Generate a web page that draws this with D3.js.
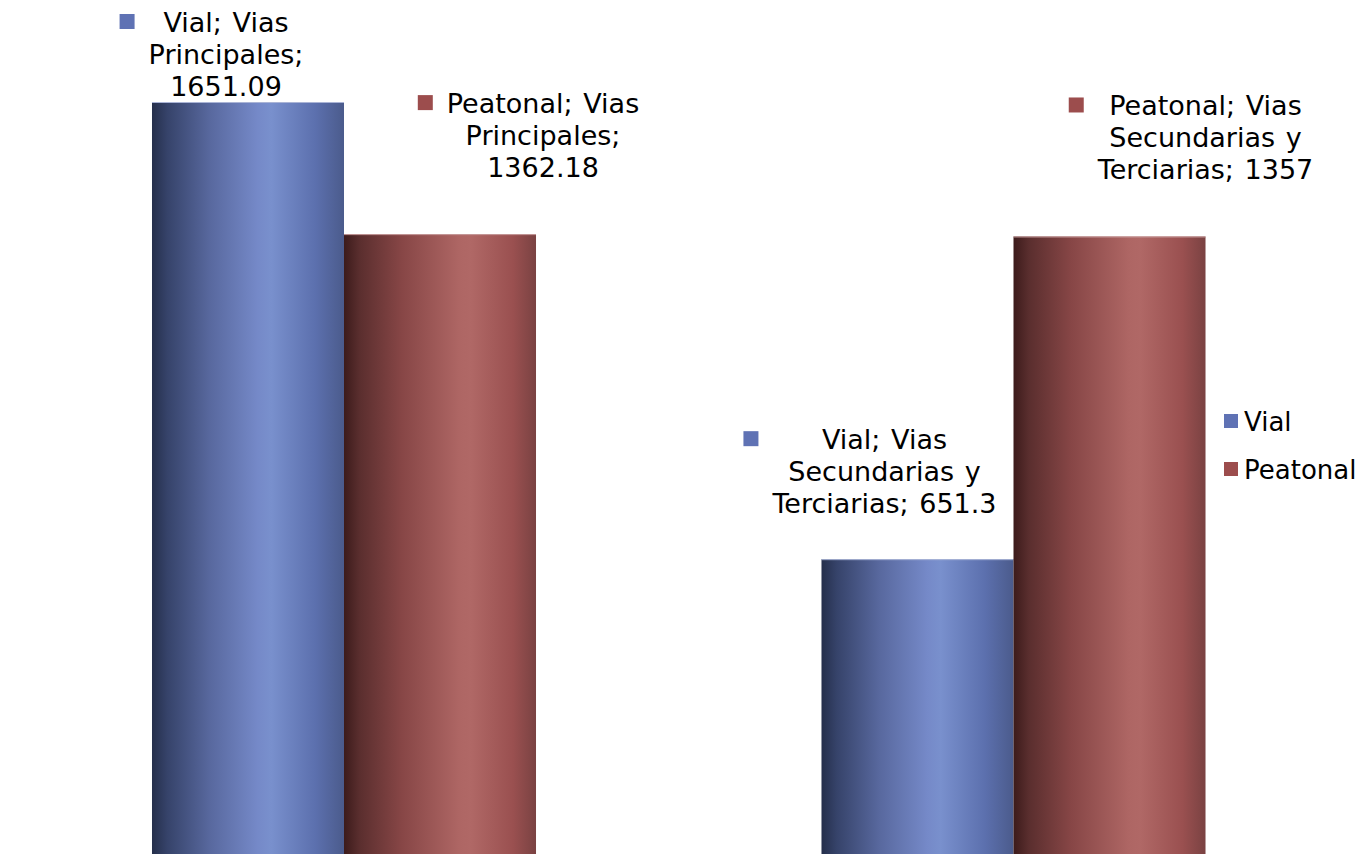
<!DOCTYPE html>
<html>
<head>
<meta charset="utf-8">
<script src="https://cdn.jsdelivr.net/npm/d3@7"></script>
<style>
html,body{margin:0;padding:0;background:#fff;}
svg{display:block;}
text{font-family:"DejaVu Sans",Verdana,sans-serif;fill:#000;}
</style>
</head>
<body>
<svg id="chart" width="1358" height="854"></svg>
<script>
// ---- data ----
const categories = ["Vias Principales", "Vias Secundarias y Terciarias"];
const seriesNames = ["Vial", "Peatonal"];
const vialValues = [1651.09, 651.3];
const peatonalValues = [1362.18, 1357];
const seriesColors = ["#5f72b4", "#9c4d4d"];
// data label lines (as wrapped in the reference)
const labelLines = [
  [["Vial; Vias", "Principales;", "1651.09"], ["Vial; Vias", "Secundarias y", "Terciarias; 651.3"]],
  [["Peatonal; Vias", "Principales;", "1362.18"], ["Peatonal; Vias", "Secundarias y", "Terciarias; 1357"]]
];

// ---- layout ----
const W = 1358, H = 854;
const svg = d3.select("#chart");
const defs = svg.append("defs");

const grads = [
  [[0,"#252f4b"],[0.08,"#36436a"],[0.3,"#58689e"],[0.55,"#7589c8"],[0.62,"#7990cd"],[0.85,"#5c70ae"],[1,"#4b5b8c"]],
  [[0,"#3c1b1b"],[0.08,"#5a2e2e"],[0.3,"#874646"],[0.6,"#ae6664"],[0.66,"#b06866"],[0.88,"#9a5050"],[1,"#7a4242"]]
];
grads.forEach((stops, i) => {
  const g = defs.append("linearGradient").attr("id", "g" + i)
    .attr("x1", "0%").attr("x2", "100%").attr("y1", "0%").attr("y2", "0%");
  stops.forEach(s => g.append("stop").attr("offset", s[0]).attr("stop-color", s[1]));
});

const x0 = d3.scaleBand().domain(categories).range([9.25, 1348.25])
  .paddingInner(0.4264).paddingOuter(0.2132);
const x1 = d3.scaleBand().domain(seriesNames).range([0, x0.bandwidth()]);
const y = d3.scaleLinear().domain([0, 1651.09]).range([857, 102]);

const series = [vialValues, peatonalValues];

const g = svg.append("g");
series.forEach((vals, si) => {
  g.selectAll(".bar" + si).data(vals).enter().append("rect")
    .attr("x", (d, ci) => x0(categories[ci]) + x1(seriesNames[si]))
    .attr("width", x1.bandwidth())
    .attr("y", d => y(d))
    .attr("height", d => y(0) - y(d))
    .attr("fill", "url(#g" + si + ")");
  g.selectAll(".edge" + si).data(vals).enter().append("line")
    .attr("x1", (d, ci) => x0(categories[ci]) + x1(seriesNames[si]))
    .attr("x2", (d, ci) => x0(categories[ci]) + x1(seriesNames[si]) + x1.bandwidth())
    .attr("y1", d => y(d) + 0.5).attr("y2", d => y(d) + 0.5)
    .attr("stroke", si === 0 ? "#aab4d6" : "#c69a9a").attr("stroke-width", 1);
});

// data labels: offsets relative to bar center / top
const labelOffsets = [
  [[-22, -6], [-33, -46]],
  [[103, -57], [96, -57]]
];
const fs = 27, lh = 32;
series.forEach((vals, si) => {
  vals.forEach((v, ci) => {
    const cx = x0(categories[ci]) + x1(seriesNames[si]) + x1.bandwidth() / 2 + labelOffsets[si][ci][0];
    const lastBase = y(v) + labelOffsets[si][ci][1];
    const lines = labelLines[si][ci];
    const t = g.append("text").attr("text-anchor", "middle")
      .style("font-size", fs + "px").style("word-spacing", "2px");
    lines.forEach((ln, li) => {
      t.append("tspan").attr("x", cx).attr("y", lastBase - (lines.length - 1 - li) * lh).text(ln);
    });
    const firstBase = lastBase - (lines.length - 1) * lh;
    let w = 0;
    t.selectAll("tspan").each(function() { w = Math.max(w, this.getComputedTextLength()); });
    g.append("rect")
      .attr("x", cx - w / 2 - 29).attr("y", firstBase - 18)
      .attr("width", 15).attr("height", 15)
      .attr("fill", seriesColors[si]);
  });
});

// legend
const legend = svg.append("g").attr("transform", "translate(1224,0)");
seriesNames.forEach((n, i) => {
  legend.append("rect").attr("x", 0).attr("y", 414 + i * 48).attr("width", 14).attr("height", 14)
    .attr("fill", seriesColors[i]);
  legend.append("text").attr("x", 20).attr("y", 431 + i * 48).style("font-size", "26px").text(n);
});
</script>
</body>
</html>
